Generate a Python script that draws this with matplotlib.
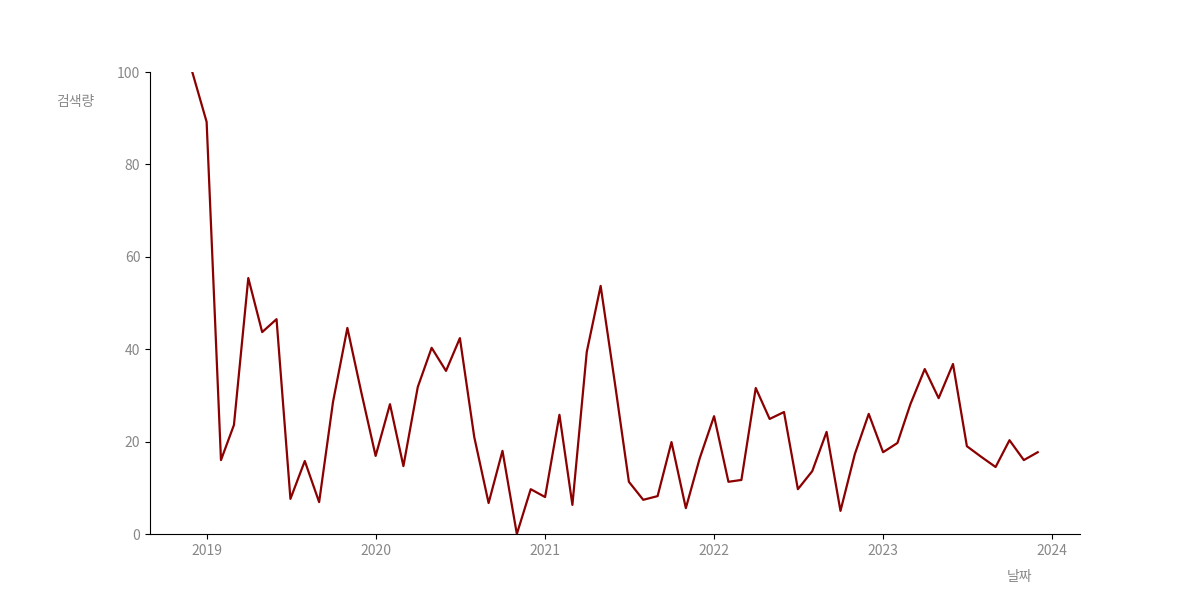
import matplotlib
matplotlib.use("Agg")
import matplotlib.pyplot as plt
import matplotlib.dates as mdates
import pandas as pd

plt.rcParams['font.family'] = ['Noto Sans CJK KR', 'DejaVu Sans']

# monthly search volume, 2018-12 .. 2023-12
dates = pd.date_range("2018-12-01", "2023-12-01", freq="MS")
volume = [100, 89.2, 16.0, 23.6, 55.4, 43.7, 46.5, 7.6, 15.8, 6.9, 28.6, 44.6,
          30.7, 16.9, 28.1, 14.7, 31.8, 40.3, 35.3, 42.4, 21.0, 6.7, 18.0, 0,
          9.7, 8.0, 25.8, 6.3, 39.4, 53.7, 32.5, 11.3, 7.4, 8.2, 19.9, 5.6,
          16.4, 25.5, 11.3, 11.7, 31.6, 24.9, 26.4, 9.7, 13.6, 22.1, 5.0, 17.3,
          26.0, 17.7, 19.7, 28.1, 35.7, 29.4, 36.8, 19.0, 16.7, 14.5, 20.3, 16.0,
          17.7]

fig, ax = plt.subplots(figsize=(12, 6), dpi=100)
ax.plot(dates, volume, color='#8b0000', linewidth=1.6)

ax.set_ylim(0, 100)
ax.xaxis.set_major_locator(mdates.YearLocator())
ax.xaxis.set_major_formatter(mdates.DateFormatter('%Y'))

ax.spines['top'].set_visible(False)
ax.spines['right'].set_visible(False)
ax.tick_params(colors='#888888', labelsize=10)
ax.tick_params(axis='both', color='black')

ax.set_ylabel('검색량', rotation=0, color='#888888', fontsize=10)
ax.yaxis.set_label_coords(-0.08, 0.92)
ax.set_xlabel('날짜', color='#888888', fontsize=10)
ax.xaxis.set_label_coords(0.935, -0.077)

plt.savefig('out.png', dpi=100)
